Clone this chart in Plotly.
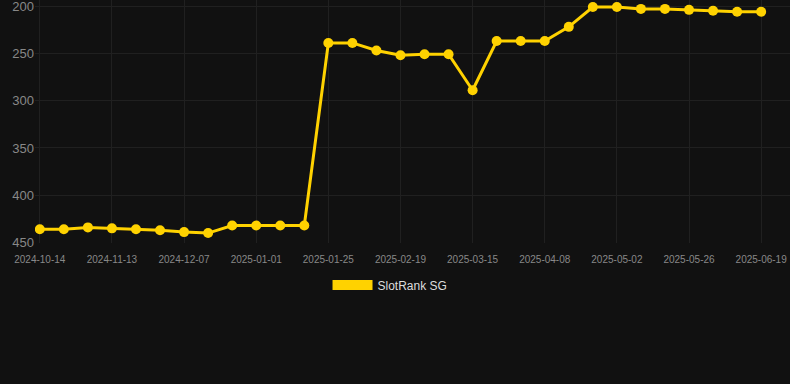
import plotly.graph_objects as go

dates = ["2024-10-14", "2024-10-24", "2024-11-03", "2024-11-13", "2024-11-21", "2024-11-29",
         "2024-12-07", "2024-12-15", "2024-12-23", "2025-01-01", "2025-01-09", "2025-01-17",
         "2025-01-25", "2025-02-02", "2025-02-10", "2025-02-19", "2025-02-27", "2025-03-07",
         "2025-03-15", "2025-03-23", "2025-03-31", "2025-04-08", "2025-04-16", "2025-04-24",
         "2025-05-02", "2025-05-10", "2025-05-18", "2025-05-26", "2025-06-03", "2025-06-11",
         "2025-06-19"]
ranks = [436, 436, 434, 435, 436, 437, 439, 440, 432, 432, 432, 432,
         239, 239, 247, 252, 251, 251, 289, 237, 237, 237, 222, 201,
         201, 203, 203, 204, 205, 206, 206]
tick_labels = dates[::3]
series_name = "SlotRank SG"

GOLD = "#ffd200"
font = "Arial, Liberation Sans, sans-serif"

fig = go.Figure()
fig.add_trace(go.Scatter(
    x=dates, y=ranks, mode="lines+markers", name=series_name, showlegend=False,
    line=dict(color=GOLD, width=3), marker=dict(color=GOLD, size=10),
))
fig.add_trace(go.Scatter(
    x=[None], y=[None], mode="lines", name=series_name,
    line=dict(color=GOLD, width=12),
))

fig.update_layout(
    width=790, height=384,
    margin=dict(l=35, r=0, t=0, b=141),
    paper_bgcolor="#111111", plot_bgcolor="#111111",
    font=dict(family=font, color="#888888"),
    legend=dict(orientation="h", xref="container", yref="container",
                x=0.4937, xanchor="center", y=0.258, yanchor="middle",
                itemwidth=40,
                font=dict(size=12, color="#dddddd"), bgcolor="rgba(0,0,0,0)"),
    xaxis=dict(type="category", categoryorder="array", categoryarray=dates,
               tickmode="array", tickvals=tick_labels, ticktext=tick_labels,
               range=[-0.2, 31.2], showgrid=True, gridcolor="#202020", gridwidth=1,
               zeroline=False, showline=False, ticks="", ticklabelstandoff=9,
               tickfont=dict(size=10, color="#888888")),
    yaxis=dict(range=[450.5, 193.6], tickvals=[200, 250, 300, 350, 400, 450],
               showgrid=True, gridcolor="#202020", gridwidth=1, zeroline=False,
               showline=False, ticks="", ticklabeloverflow="allow",
               tickfont=dict(size=13, color="#888888")),
)

fig.write_html("out.html")
